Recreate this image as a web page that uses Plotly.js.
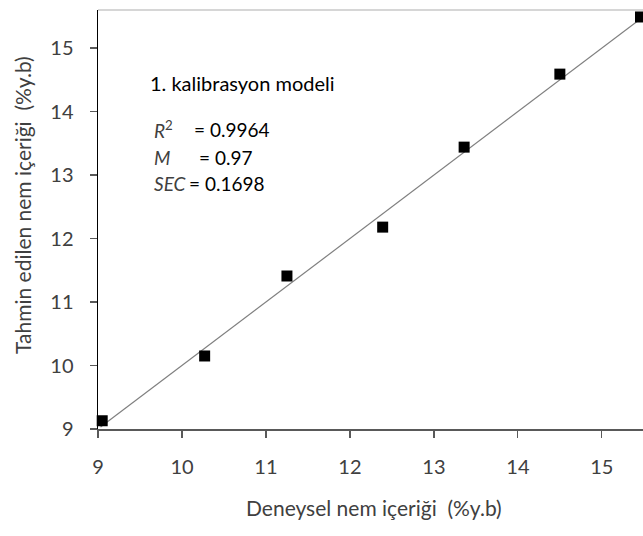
<!DOCTYPE html>
<html><head><meta charset="utf-8">
<script src="https://cdn.plot.ly/plotly-3.0.1.min.js"></script>
<style>html,body{margin:0;padding:0;background:#fff}</style>
</head><body><div id="chart" style="width:643px;height:536px"></div>
<script>
const measured = [9.05, 10.27, 11.25, 12.39, 13.36, 14.50, 15.46];
const predicted = [9.13, 10.15, 11.41, 12.18, 13.44, 14.59, 15.49];
const fitX = [9.03, 15.52];
const fitY = [9.03, 15.52];
const xTicks = [9, 10, 11, 12, 13, 14, 15];
const yTicks = [9, 10, 11, 12, 13, 14, 15];
const xTitle = "Deneysel nem içeriği  (%y.b)";
const yTitle = "Tahmin edilen nem içeriği  (%y.b)";
const modelTitle = "1. kalibrasyon modeli";
const statLabels = ["<i>R</i><sup>2</sup>", "<i>M</i>", "<i>SEC</i>"];
const statValues = ["= 0.9964", "= 0.97", "= 0.1698"];

const F = "Lato, 'Open Sans', sans-serif";
const txt = "#404040";

const traces = [
  {x: fitX, y: fitY, mode: "lines", line: {color: "#7f7f7f", width: 1.2}, hoverinfo: "skip"},
  {x: measured, y: predicted, mode: "markers", marker: {symbol: "square", size: 11, color: "#000"}, cliponaxis: false}
];

const statY = [13.71, 13.28, 12.87];
const labelX = 9.64;
const valueX = [10.12, 10.18, 10.06];
const annotations = [
  {x: 9.595, y: 14.45, xref: "x", yref: "y", text: modelTitle, showarrow: false, xanchor: "left", yanchor: "middle",
   font: {family: F, size: 20, color: "#000"}},
  {x: 0.5064, y: -0.1885, xref: "paper", yref: "paper", text: xTitle, showarrow: false, xanchor: "center", yanchor: "middle",
   font: {family: F, size: 21, color: txt}},
  {x: -0.1394, y: 0.5346, xref: "paper", yref: "paper", text: yTitle, showarrow: false, xanchor: "center", yanchor: "middle",
   textangle: -90, font: {family: F, size: 21, color: txt}}
];
statLabels.forEach((l, i) => {
  annotations.push({x: labelX, y: statY[i], xref: "x", yref: "y", text: l, showarrow: false, xanchor: "left", yanchor: "middle",
    font: {family: F, size: 19, color: txt}});
  annotations.push({x: valueX[i], y: statY[i], xref: "x", yref: "y", text: statValues[i], showarrow: false, xanchor: "left", yanchor: "middle",
    font: {family: F, size: 19, color: "#000"}});
});

const layout = {
  width: 643, height: 536,
  margin: {l: 98, r: 0, t: 10, b: 107, pad: 0},
  paper_bgcolor: "#fff", plot_bgcolor: "#fff",
  showlegend: false,
  xaxis: {
    range: [9, 15.49], tickvals: xTicks, ticktext: xTicks.map(String),
    showgrid: false, zeroline: false, showline: true, linecolor: "#595959", linewidth: 1.5,
    ticks: "outside", ticklen: 7, tickcolor: "#595959", tickwidth: 1.2,
    ticklabelstandoff: 12,
    tickfont: {family: F, size: 20, color: txt}
  },
  yaxis: {
    range: [9, 15.6], tickvals: yTicks, ticktext: yTicks.map(String),
    showgrid: false, zeroline: false, showline: true, linecolor: "#000", linewidth: 1.5,
    ticks: "outside", ticklen: 7, tickcolor: "#595959", tickwidth: 1.2,
    ticklabelstandoff: 12,
    tickfont: {family: F, size: 20, color: txt}
  },
  shapes: [
    {type: "line", xref: "paper", yref: "paper", x0: 0, x1: 1, y0: 1, y1: 1, line: {color: "#c8c8c8", width: 1.5}}
  ],
  annotations: annotations
};
Plotly.newPlot("chart", traces, layout, {displayModeBar: false, staticPlot: true});
</script></body></html>
